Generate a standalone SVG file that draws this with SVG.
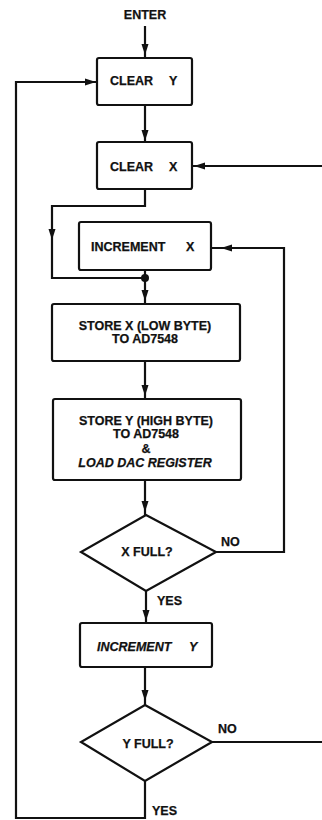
<svg xmlns="http://www.w3.org/2000/svg" xmlns:xlink="http://www.w3.org/1999/xlink" width="322" height="820" viewBox="0 0 322 820">
<style>
.box{fill:#fff;stroke:#111;stroke-width:2.2;}
.ln{fill:none;stroke:#111;stroke-width:2.2;stroke-linejoin:miter;}
.t{font-family:"Liberation Sans",Arial,sans-serif;font-weight:bold;font-size:12.5px;fill:#111;stroke:#111;stroke-width:0.25;}
.c{text-anchor:middle;}
.i{font-style:italic;}
.ah{fill:#111;}
</style>
<defs>
<path id="ah" d="M0,0 L-3.5,-11 L3.5,-11 Z"/>
</defs>
<rect width="322" height="820" fill="#fff"/>
<g id="connectors">
<path class="ln" d="M145,26 V58"/>
<path class="ln" d="M145,105 V142"/>
<path class="ln" d="M145,189 V206 H52 V278 H145"/>
<path class="ln" d="M145,270 V304"/>
<path class="ln" d="M145,361 V399"/>
<path class="ln" d="M145,480 V515"/>
<path class="ln" d="M146,591 V623"/>
<path class="ln" d="M145,667 V705"/>
<path class="ln" d="M145,781 V818 H16 V82 H97"/>
<path class="ln" d="M192,166 H322"/>
<path class="ln" d="M216,552 H284 V248 H211"/>
<path class="ln" d="M212,742 H322"/>
<use xlink:href="#ah" class="ah" transform="translate(145,55)"/>
<use xlink:href="#ah" class="ah" transform="translate(145,141)"/>
<use xlink:href="#ah" class="ah" transform="translate(52,240)"/>
<use xlink:href="#ah" class="ah" transform="translate(145,301)"/>
<use xlink:href="#ah" class="ah" transform="translate(145,396)"/>
<use xlink:href="#ah" class="ah" transform="translate(145,512)"/>
<use xlink:href="#ah" class="ah" transform="translate(146,621)"/>
<use xlink:href="#ah" class="ah" transform="translate(145,701)"/>
<use xlink:href="#ah" class="ah" transform="translate(96,82) rotate(-90)"/>
<use xlink:href="#ah" class="ah" transform="translate(194,166) rotate(90)"/>
<use xlink:href="#ah" class="ah" transform="translate(221,248) rotate(90)"/>
<circle class="ah" cx="145" cy="278" r="4"/>
</g>
<g id="enter">
<text class="t c" x="145" y="19">ENTER</text>
</g>
<g id="clearY">
<rect class="box" x="97" y="58" width="95" height="47" rx="2"/>
<text class="t" x="110" y="85">CLEAR<tspan x="169">Y</tspan></text>
</g>
<g id="clearX">
<rect class="box" x="97" y="142" width="95" height="47" rx="2"/>
<text class="t" x="110" y="171">CLEAR<tspan x="169">X</tspan></text>
</g>
<g id="incX">
<rect class="box" x="79" y="222" width="132" height="48" rx="2"/>
<text class="t" x="91" y="251">INCREMENT<tspan x="186">X</tspan></text>
</g>
<g id="storeX">
<rect class="box" x="52" y="304" width="188" height="57" rx="2"/>
<text class="t c" x="145" y="330">STORE X (LOW BYTE)</text>
<text class="t c" x="145" y="343">TO AD7548</text>
</g>
<g id="storeY">
<rect class="box" x="53" y="399" width="188" height="81" rx="2"/>
<text class="t c" x="146" y="425">STORE Y (HIGH BYTE)</text>
<text class="t c" x="146" y="438">TO AD7548</text>
<text class="t c" x="146" y="453">&amp;</text>
<text class="t c i" x="145" y="467">LOAD DAC REGISTER</text>
</g>
<g id="xFull">
<polygon class="box" points="146,515 216,552 146,591 81,552"/>
<text class="t c" x="147" y="556">X FULL?</text>
<text class="t" x="221" y="546">NO</text>
<text class="t" x="157" y="605">YES</text>
</g>
<g id="incY">
<rect class="box" x="80" y="623" width="132" height="44" rx="2"/>
<text class="t i" x="97" y="651">INCREMENT<tspan x="189">Y</tspan></text>
</g>
<g id="yFull">
<polygon class="box" points="145,705 212,742 145,781 81,742"/>
<text class="t c" x="148" y="748">Y FULL?</text>
<text class="t" x="218" y="733">NO</text>
<text class="t" x="152" y="815">YES</text>
</g>
</svg>
